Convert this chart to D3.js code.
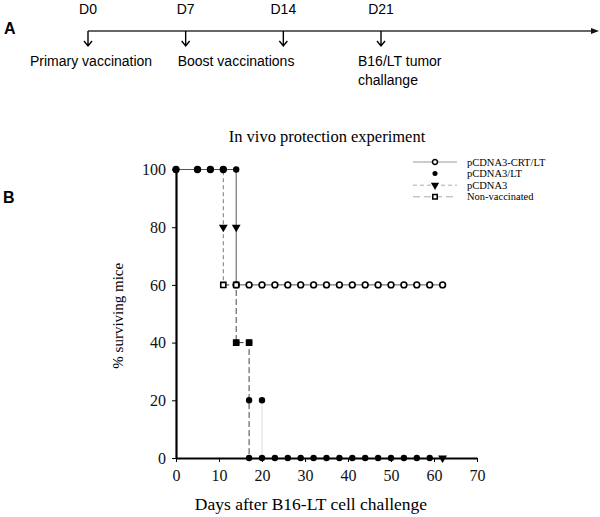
<!DOCTYPE html>
<html>
<head>
<meta charset="utf-8">
<script src="https://cdn.jsdelivr.net/npm/d3@7"></script>
<style>
  body { margin: 0; background: #fff; }
  svg { display: block; }
  .serif { font-family: "Liberation Serif", "Times New Roman", serif; }
  .sans { font-family: "Liberation Sans", Arial, sans-serif; }
</style>
</head>
<body>
<div id="graph"></div>
<script>
// panel A: vaccination schedule
const schedDays = ['D0', 'D7', 'D14', 'D21'];
const schedText = [['Primary vaccination'], ['Boost vaccinations'], [], ['B16/LT tumor', 'challange']];

// panel B: survival data (day, % surviving)
const crtDays = [0, 5, 8, 11, 14, 17, 20, 23, 26, 29, 32, 35, 38, 41, 44, 47, 50, 53, 56, 59, 62];
const crtSurv = [100, 100, 100, 100, 60, 60, 60, 60, 60, 60, 60, 60, 60, 60, 60, 60, 60, 60, 60, 60, 60];
const crtPath = [[0, 100], [14, 100], [14, 60], [62, 60]];

const ltDays = [0, 5, 8, 11, 14, 14, 17, 17, 20, 17, 20, 23, 26, 29, 32, 35, 38, 41, 44, 47, 50, 53, 56, 59];
const ltSurv = [100, 100, 100, 100, 100, 40, 40, 20, 20, 0, 0, 0, 0, 0, 0, 0, 0, 0, 0, 0, 0, 0, 0, 0];
const ltPath = [[20, 20], [20, 0]];

const pcDays = [11, 14, 62];
const pcSurv = [80, 80, 0];
const pcPath = [[0, 100], [11, 100], [11, 60]];

const nvDays = [11, 14, 14, 17];
const nvSurv = [60, 60, 40, 40];
const nvPath = [[11, 60], [14, 60], [14, 40], [17, 40], [17, 0]];

const xTicks = [0, 10, 20, 30, 40, 50, 60, 70];
const yTicks = [0, 20, 40, 60, 80, 100];

const W = 600, H = 517;
const svg = d3.select('#graph').append('svg')
  .attr('width', W)
  .attr('height', H);

// ---------- panel A ----------
const tx = d3.scalePoint().domain(schedDays).range([88, 381]);
const lineY = 31;

svg.append('text').attr('class', 'sans')
  .attr('x', 4).attr('y', 34)
  .attr('font-size', 16).attr('font-weight', 'bold')
  .text('A');

svg.append('line')
  .attr('x1', tx('D0')).attr('x2', 592)
  .attr('y1', lineY).attr('y2', lineY)
  .attr('stroke', '#333').attr('stroke-width', 1.3);
svg.append('path')
  .attr('d', 'M599,' + lineY + 'L591,' + (lineY - 3) + 'L591,' + (lineY + 3) + 'Z')
  .attr('fill', '#111');

const labelShift = [-58, -8, 0, -23];
schedDays.forEach((d, i) => {
  const cx = tx(d);
  svg.append('text').attr('class', 'sans')
    .attr('x', cx).attr('y', 14)
    .attr('text-anchor', 'middle')
    .attr('font-size', 14)
    .text(d);
  svg.append('path')
    .attr('d', 'M' + cx + ',' + lineY + 'V' + (lineY + 15) +
      'M' + (cx - 4) + ',' + (lineY + 10) + 'L' + cx + ',' + (lineY + 15) + 'L' + (cx + 4) + ',' + (lineY + 10))
    .attr('fill', 'none').attr('stroke', '#000').attr('stroke-width', 1.4);
  schedText[i].forEach((t, j) => {
    svg.append('text').attr('class', 'sans')
      .attr('x', cx + labelShift[i]).attr('y', 66 + j * 19)
      .attr('font-size', 14)
      .text(t);
  });
});

// ---------- panel B ----------
svg.append('text').attr('class', 'sans')
  .attr('x', 3).attr('y', 203)
  .attr('font-size', 16).attr('font-weight', 'bold')
  .text('B');

const x = d3.scaleLinear().domain([0, 70]).range([176, 477]);
const y = d3.scaleLinear().domain([0, 100]).range([458, 169.5]);

svg.append('text').attr('class', 'serif')
  .attr('x', 327).attr('y', 142)
  .attr('text-anchor', 'middle')
  .attr('font-size', 16.5)
  .text('In vivo protection experiment');

const xaxis = d3.axisBottom(x).tickValues(xTicks).tickSize(4).tickSizeOuter(0).tickPadding(8);
const yaxis = d3.axisLeft(y).tickValues(yTicks).tickSize(4).tickSizeOuter(0).tickPadding(6);

const line = d3.line()
  .x(d => x(d[0]))
  .y(d => y(d[1]));

// step lines
svg.append('path').attr('d', line(ltPath))
  .attr('fill', 'none').attr('stroke', '#ddd').attr('stroke-width', 1);
svg.append('path').attr('d', line(pcPath))
  .attr('fill', 'none').attr('stroke', '#777').attr('stroke-width', 1)
  .attr('stroke-dasharray', '4,3');
svg.append('path').attr('d', line(nvPath))
  .attr('fill', 'none').attr('stroke', '#444').attr('stroke-width', 1)
  .attr('stroke-dasharray', '6,3');
svg.append('path').attr('d', line(crtPath))
  .attr('fill', 'none').attr('stroke', '#555').attr('stroke-width', 1);

// axes
const gx = svg.append('g').attr('class', 'serif')
  .attr('transform', 'translate(0,' + y(0) + ')')
  .call(xaxis);
const gy = svg.append('g').attr('class', 'serif')
  .attr('transform', 'translate(' + x(0) + ',0)')
  .call(yaxis);
[gx, gy].forEach(g => {
  g.select('.domain').attr('stroke', '#000').attr('stroke-width', 2.2);
  g.selectAll('.tick line').attr('stroke', '#000').attr('stroke-width', 1);
  g.selectAll('.tick text').attr('font-size', 16).attr('fill', '#111')
    .style('font-family', '"Liberation Serif", "Times New Roman", serif');
});

svg.append('text').attr('class', 'serif')
  .attr('x', 311).attr('y', 510)
  .attr('text-anchor', 'middle')
  .attr('font-size', 17.5)
  .text('Days after B16-LT cell challenge');

svg.append('text').attr('class', 'serif')
  .attr('transform', 'translate(123,' + ((y(0) + y(100)) / 2 + 2) + ') rotate(-90)')
  .attr('text-anchor', 'middle')
  .attr('font-size', 15)
  .text('% surviving mice');

// markers
const sym = {
  circle: d3.symbol().type(d3.symbolCircle).size(26),
  dot: d3.symbol().type(d3.symbolCircle).size(32),
  tri: d3.symbol().type(d3.symbolTriangle).size(16),
  square: d3.symbol().type(d3.symbolSquare).size(26)
};

function markers(days, surv, kind) {
  const pts = days.map((d, i) => [d, surv[i]]);
  const g = svg.append('g');
  g.selectAll('path').data(pts).enter().append('path')
    .attr('d', sym[kind])
    .attr('transform', d => 'translate(' + x(d[0]) + ',' + y(d[1]) + ')' + (kind === 'tri' ? ' rotate(180)' : ''))
    .attr('fill', kind === 'circle' || kind === 'square' ? '#fff' : '#000')
    .attr('stroke', '#000')
    .attr('stroke-width', kind === 'dot' ? 0 : 1.6);
}

markers(crtDays, crtSurv, 'circle');
markers(nvDays, nvSurv, 'square');
markers(pcDays, pcSurv, 'tri');
markers(ltDays, ltSurv, 'dot');

// legend
const legend = [
  {name: 'pCDNA3-CRT/LT', kind: 'circle', stroke: '#999', dash: null},
  {name: 'pCDNA3/LT', kind: 'dot', stroke: null, dash: null},
  {name: 'pCDNA3', kind: 'tri', stroke: '#aaa', dash: '4,3'},
  {name: 'Non-vaccinated', kind: 'square', stroke: '#aaa', dash: '7,4'}
];
legend.forEach((l, i) => {
  const ly = 162 + i * 11.6;
  if (l.stroke) {
    svg.append('line')
      .attr('x1', 413).attr('x2', 457)
      .attr('y1', ly).attr('y2', ly)
      .attr('stroke', l.stroke).attr('stroke-width', 1)
      .attr('stroke-dasharray', l.dash);
  }
  svg.append('path')
    .attr('d', d3.symbol().type(l.kind === 'square' ? d3.symbolSquare : (l.kind === 'tri' ? d3.symbolTriangle : d3.symbolCircle)).size(l.kind === 'tri' ? 14 : 20))
    .attr('transform', 'translate(435,' + ly + ')' + (l.kind === 'tri' ? ' rotate(180)' : ''))
    .attr('fill', (l.kind === 'dot' || l.kind === 'tri') ? '#000' : '#fff')
    .attr('stroke', '#000')
    .attr('stroke-width', l.kind === 'dot' ? 0 : 1.5);
  svg.append('text').attr('class', 'serif')
    .attr('x', 467).attr('y', ly + 3.5)
    .attr('font-size', 10.5)
    .text(l.name);
});
</script>
</body>
</html>
